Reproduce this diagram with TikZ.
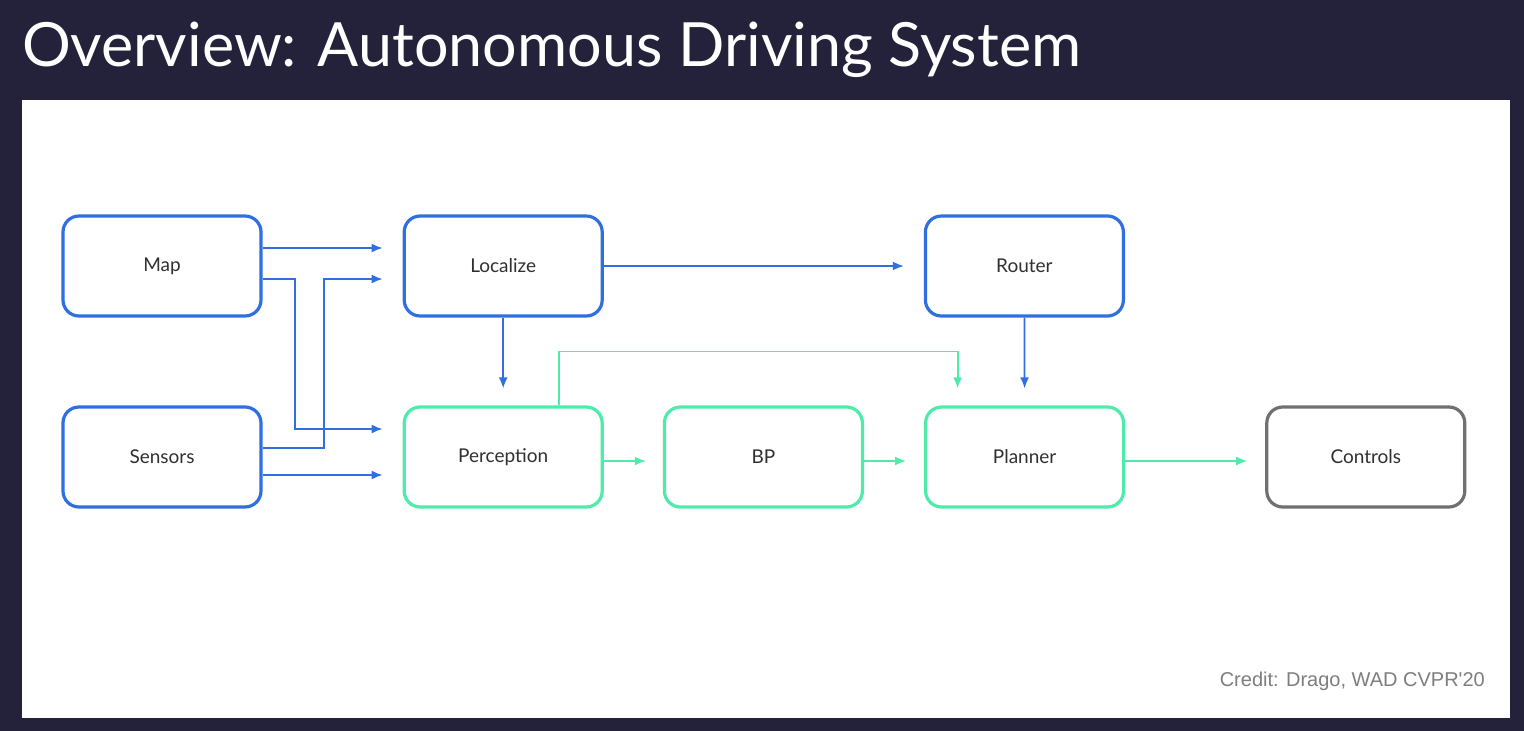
\documentclass[tikz,border=0pt]{standalone}
\usepackage{fontspec}
\setmainfont{Lato}
\newfontfamily\creditfont{Liberation Sans}
\usetikzlibrary{positioning}
\usetikzlibrary{arrows.meta}

\definecolor{slidebg}{HTML}{23223A}
\definecolor{boxblue}{HTML}{2F6FE0}
\definecolor{boxgreen}{HTML}{4FEBAA}
\definecolor{boxgray}{HTML}{707070}
\definecolor{labelgray}{HTML}{303030}

\tikzset{
  block/.style={draw, rounded corners=16pt, line width=3.2pt, fill=white,
    minimum width=198pt, minimum height=100pt, text=labelgray,
    font=\fontsize{19pt}{21pt}\selectfont},
  blueblock/.style={block, draw=boxblue},
  greenblock/.style={block, draw=boxgreen},
  grayblock/.style={block, draw=boxgray},
  link/.style={line width=1.8pt, -{Latex[length=11pt,width=9pt]}},
  bluelink/.style={link, boxblue},
  greenlink/.style={link, boxgreen}
}

\begin{document}
\begin{tikzpicture}[x=1pt, y=-1pt, node distance=140pt]
		\useasboundingbox (0,0) rectangle (1524,731);
		\fill[slidebg] (0,0) rectangle (1524,731);
		\fill[white] (22,100) rectangle (1510,718);
		\node (title) [anchor=base west, text=white, inner sep=0pt,
		  font=\fontsize{61pt}{66pt}\selectfont] at (22,66) {Overview: Autonomous Driving System};
		\node (credit) [anchor=base east, text=boxgray!90, inner sep=0pt,
		  font=\creditfont\fontsize{20pt}{22pt}\selectfont] at (1485,686) {Credit: Drago, WAD CVPR'20};
		% top row
		\node (map) [blueblock] at (162,266) {Map};
		\node (loc) [blueblock, right=of map] {Localize};
		\node (router) [blueblock, right=320pt of loc] {Router};
		% bottom row
		\node (sens) [blueblock] at (162,457) {Sensors};
		\node (perc) [greenblock, right=of sens] {Perception};
		\node (bp) [greenblock, right=59pt of perc] {BP};
		\node (plan) [greenblock, right=60pt of bp] {Planner};
		\node (ctrl) [grayblock, right=of plan] {Controls};
		% blue links
		\draw[bluelink] ([yshift=18pt]map.east) -- ([xshift=-20pt,yshift=18pt]loc.west);
		\draw[bluelink] ([yshift=-13pt]map.east) -- ++(32pt,0) |- ([xshift=-20pt,yshift=28pt]perc.west);
		\draw[bluelink] ([yshift=9pt]sens.east) -- ++(61pt,0) |- ([xshift=-20pt,yshift=-13pt]loc.west);
		\draw[bluelink] ([yshift=-18pt]sens.east) -- ([xshift=-20pt,yshift=-18pt]perc.west);
		\draw[bluelink] (loc.east) -- ([xshift=-20pt]router.west);
		\draw[bluelink] (loc.south) -- ([yshift=17pt]perc.north);
		\draw[bluelink] (router.south) -- ([yshift=17pt]plan.north);
		% green links
		\draw[greenlink] ([xshift=56pt]perc.north) -- ++(0,54pt) -| ([xshift=-67pt,yshift=17pt]plan.north);
		\draw[greenlink] ([yshift=-4pt]perc.east) -- ([xshift=-17pt,yshift=-4pt]bp.west);
		\draw[greenlink] ([yshift=-4pt]bp.east) -- ([xshift=-18pt,yshift=-4pt]plan.west);
		\draw[greenlink] ([yshift=-4pt]plan.east) -- ([xshift=-18pt,yshift=-4pt]ctrl.west);
\end{tikzpicture}
\end{document}
